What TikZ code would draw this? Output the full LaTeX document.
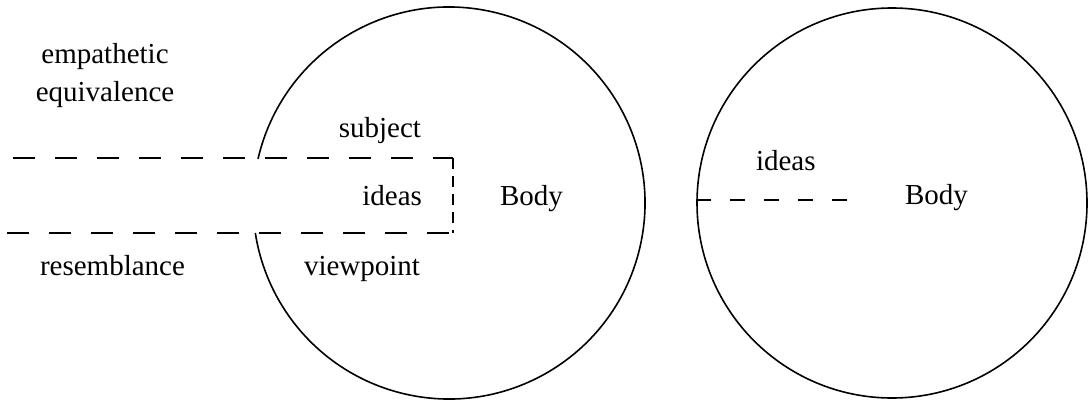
\documentclass[tikz,border=0pt]{standalone}
\usepackage{fontspec}
\setmainfont{Liberation Serif}
\begin{document}
\begin{tikzpicture}[x=1pt,y=1pt,
  lbl/.style={inner sep=0pt, outer sep=0pt, font=\fontsize{29}{38}\selectfont},
  outline/.style={line width=1.6pt, black},
  boxdash/.style={line width=1.5pt, dash pattern=on 22pt off 20pt},
  sidedash/.style={line width=1.5pt, dash pattern=on 11pt off 7pt},
  thindash/.style={line width=1.1pt, dash pattern=on 15pt off 19pt}]
\useasboundingbox (0,0) rectangle (1089,-404);
% left body (circle with an opening)
\coordinate (c1) at (449,-203);
\draw[outline] ([shift={(167:196)}]c1) arc[start angle=167, end angle=-171.2, radius=196];
% dashed ideas box
\coordinate (tl) at (10,-158);
\coordinate (tr) at (453,-158);
\coordinate (br) at (453,-233);
\coordinate (bl) at (7,-233);
\draw[boxdash, dash phase=2pt] (tr) -- (tl);
\draw[boxdash] (bl) -- (br);
\draw[sidedash] (tr) -- (br);
% labels left
\node[lbl, align=center, anchor=base] (emp) at (105,-101) {empathetic\\[-0.5pt]equivalence};
\node[lbl, anchor=base west] (res) at (40,-275) {resemblance};
\node[lbl, anchor=base east] (subj) at (421,-137) {subject};
\node[lbl, anchor=base east] (ideas1) at (422,-205) {ideas};
\node[lbl, anchor=base east] (view) at (420,-275) {viewpoint};
\node[lbl, anchor=base west] (body1) at (500,-205) {Body};
% right body
\node[outline, draw, circle, minimum size=390pt, inner sep=0pt] (c2) at (892,-203) {};
\coordinate (dend) at (850,-200);
\draw[thindash] (c2.west |- dend) -- (dend);
\node[lbl, anchor=base west] (ideas2) at (756,-170) {ideas};
\node[lbl, anchor=base west] (body2) at (905,-204) {Body};
\end{tikzpicture}
\end{document}
